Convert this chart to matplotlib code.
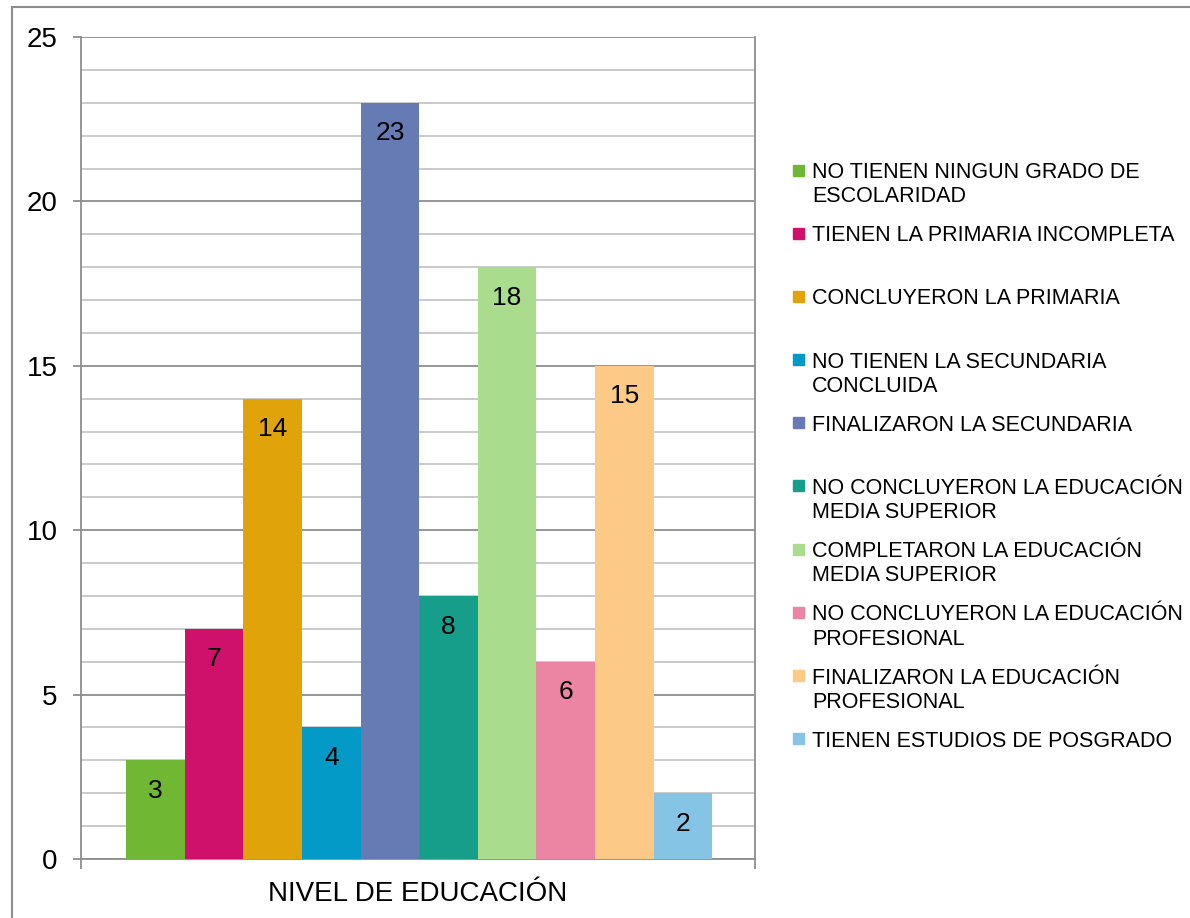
import numpy as np
import matplotlib
matplotlib.use("Agg")
import matplotlib.pyplot as plt
from matplotlib.patches import Rectangle

plt.rcParams['font.family'] = ['Liberation Sans', 'DejaVu Sans']

# escolaridad de los encuestados
categorias = [
    'NO TIENEN NINGUN GRADO DE\nESCOLARIDAD',
    'TIENEN LA PRIMARIA INCOMPLETA',
    'CONCLUYERON LA PRIMARIA',
    'NO TIENEN LA SECUNDARIA\nCONCLUIDA',
    'FINALIZARON LA SECUNDARIA',
    'NO CONCLUYERON LA EDUCACIÓN\nMEDIA SUPERIOR',
    'COMPLETARON LA EDUCACIÓN\nMEDIA SUPERIOR',
    'NO CONCLUYERON LA EDUCACIÓN\nPROFESIONAL',
    'FINALIZARON LA EDUCACIÓN\nPROFESIONAL',
    'TIENEN ESTUDIOS DE POSGRADO',
]
valores = [3, 7, 14, 4, 23, 8, 18, 6, 15, 2]
colores = ['#70b833', '#d0116b', '#e0a30a', '#039ac7', '#667bb3',
           '#169e8b', '#a9dc8d', '#ec85a4', '#fdc987', '#86c4e6']
titulo_x = 'NIVEL DE EDUCACIÓN'

fig = plt.figure(figsize=(11.9, 9.18), dpi=100)
ax = fig.add_axes([81/1190, 59/918, 674/1190, 822/918])

# marco exterior del grafico
fig.patches.append(Rectangle((12/1190, -0.1), 1.2, 1.1 - 7/918,
                             transform=fig.transFigure, fill=False,
                             edgecolor='#8c8c8c', lw=1.5))

x = np.arange(len(valores))
ax.bar(x, valores, width=1.0, color=colores, zorder=3)
for xi, v in zip(x, valores):
    ax.annotate(str(v), (xi, v), xytext=(0, -22), textcoords='offset points',
                ha='center', va='center', fontsize=19, color='black', zorder=4)

ax.set_xlim(-1.27, 10.23)
ax.set_ylim(0, 25)
ax.set_yticks(np.arange(0, 26, 5))
ax.set_yticks(np.arange(0, 26, 1), minor=True)
ax.grid(axis='y', which='minor', color='#c6c6c6', lw=1.3, zorder=1)
ax.grid(axis='y', which='major', color='#8e8e8e', lw=1.3, zorder=1)
ax.tick_params(axis='y', which='major', length=6, width=1.3, color='#8e8e8e',
               labelsize=20, pad=11)
ax.tick_params(axis='y', which='minor', length=0)
ax.set_xticks([-1.27, 10.23])
ax.set_xticklabels([])
ax.tick_params(axis='x', length=7, width=1.3, color='#8e8e8e')
ax.set_xlabel(titulo_x, fontsize=20, labelpad=5)

for lado in ['left', 'bottom', 'right']:
    ax.spines[lado].set_color('#8e8e8e')
    ax.spines[lado].set_linewidth(1.3)
ax.spines['top'].set_visible(False)

# leyenda a la derecha, una entrada por categoria
y0 = 1 - 170/918
paso = 63.2/918
for i, (txt, c) in enumerate(zip(categorias, colores)):
    yi = y0 - i*paso
    fig.patches.append(Rectangle((793/1190, yi - 5.5/918), 11/1190, 11/918,
                                 transform=fig.transFigure, color=c))
    fig.text(812/1190, yi + 8/918, txt, fontsize=15.5, va='top', ha='left',
             linespacing=1.2)

fig.savefig('out.png', dpi=100)
